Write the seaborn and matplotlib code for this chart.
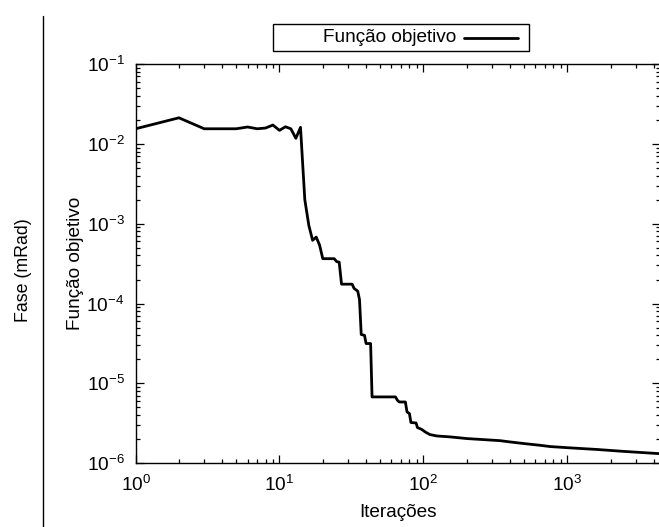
import matplotlib
matplotlib.use("Agg")
import matplotlib.pyplot as plt
import seaborn as sns
import pandas as pd
from matplotlib.patches import Rectangle
from matplotlib.lines import Line2D

# ---- data ----
iteracoes = [1, 2, 3, 4, 5, 6, 7, 8, 9, 10, 11, 12, 13, 14, 15, 16, 17, 18, 19, 20,
             24, 25, 26, 27, 32, 33, 35, 36, 37, 39, 40, 43, 44,
             64, 66, 68, 75, 77, 80, 82, 89, 91, 97, 103,
             111, 124, 154, 201, 262, 342, 402, 525, 649, 762, 1050, 1610, 2465, 4400]
funcao_objetivo = [1.545e-2, 2.12e-2, 1.545e-2, 1.545e-2, 1.545e-2, 1.626e-2, 1.545e-2,
                   1.578e-2, 1.72e-2, 1.476e-2, 1.637e-2, 1.545e-2, 1.172e-2, 1.61e-2,
                   2.0e-3, 9.5e-4, 6.2e-4, 6.8e-4, 5.4e-4, 3.65e-4,
                   3.65e-4, 3.35e-4, 3.3e-4, 1.75e-4, 1.75e-4, 1.55e-4, 1.43e-4, 1.12e-4,
                   4.1e-5, 4.0e-5, 3.16e-5, 3.16e-5, 6.78e-6,
                   6.78e-6, 6.16e-6, 5.86e-6, 5.86e-6, 4.4e-6, 4.2e-6, 3.24e-6, 3.2e-6,
                   2.8e-6, 2.67e-6, 2.47e-6,
                   2.29e-6, 2.2e-6, 2.14e-6, 2.04e-6, 1.98e-6, 1.92e-6, 1.85e-6, 1.75e-6,
                   1.68e-6, 1.62e-6, 1.56e-6, 1.49e-6, 1.41e-6, 1.32e-6]
serie_label = "Função objetivo"
x_label = "Iterações"
y_label = "Função objetivo"
outer_label = "Fase (mRad)"

df = pd.DataFrame({"it": iteracoes, "f": funcao_objetivo})

sns.set_theme(style="ticks")
plt.rcParams["font.family"] = ["Liberation Sans", "DejaVu Sans"]
plt.rcParams["mathtext.fontset"] = "custom"
plt.rcParams["mathtext.rm"] = "Liberation Sans"
plt.rcParams["mathtext.it"] = "Liberation Sans:italic"
plt.rcParams["mathtext.bf"] = "Liberation Sans:bold"

FS = 13.7
W, H = 659, 527
fig = plt.figure(figsize=(W / 100, H / 100), dpi=100)
ax_l, ax_r, ax_t, ax_b = 135.6, 659.8, 64.0, 463.3
ax = fig.add_axes([ax_l / W, (H - ax_b) / H, (ax_r - ax_l) / W, (ax_b - ax_t) / H])

sns.lineplot(data=df, x="it", y="f", ax=ax, color="black", linewidth=2.0,
             sort=False, estimator=None, legend=False)

ax.set_xscale("log")
ax.set_yscale("log")
ax.set_xlim(1, 4400)
ax.set_ylim(1e-6, 1e-1)

for s in ax.spines.values():
    s.set_linewidth(1.0)
    s.set_color("black")

ax.tick_params(which="both", direction="in", top=True, right=True, colors="black",
               labelsize=FS, width=0.9)
ax.tick_params(which="major", length=6, pad=8)
ax.tick_params(which="minor", length=3)

ax.set_xlabel(x_label, fontsize=FS, color="black")
ax.set_ylabel(y_label, fontsize=FS, color="black")
ax.xaxis.set_label_coords(0.5, -0.102)
ax.yaxis.set_label_coords(-0.099, 0.5)

# outer decorations (vertical rule and outer label)
fig.add_artist(Line2D([43 / W, 43 / W], [(H - 16) / H, 0], color="black", linewidth=1.0))
fig.text(23 / W, (H - 270) / H, outer_label, rotation=90, ha="center", va="center",
         fontsize=FS * 0.93, color="black")

# key box (text first, line sample after it)
fig.add_artist(Rectangle((273.3 / W, (H - 50.7) / H), 256 / W, 26.4 / H,
                         fill=False, edgecolor="black", linewidth=1.0,
                         transform=fig.transFigure))
fig.text(456.7 / W, (H - 37.5) / H, serie_label, ha="right", va="center",
         fontsize=FS, color="black")
fig.add_artist(Line2D([464 / W, 518.3 / W], [(H - 37.5) / H] * 2, color="black",
                      linewidth=2.0))

fig.savefig("out.png", dpi=100)
